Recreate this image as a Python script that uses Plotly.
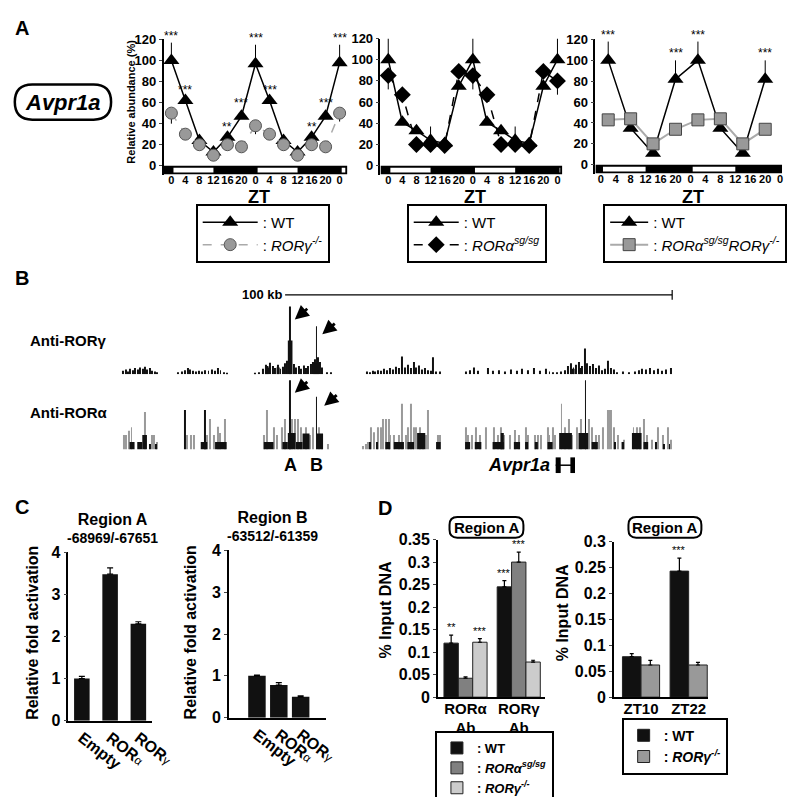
import plotly.graph_objects as go

W, H = 800, 797
FONT = "Arial, 'Liberation Sans', sans-serif"


def fx(p):
    return p / W


def fy(p):
    return 1 - p / H


# ---------------- panel A : circadian expression (Avpr1a) ----------------
zt = [0, 4, 8, 12, 16, 20, 24, 28, 32, 36, 40, 44, 48]
zt_labels = ["0", "4", "8", "12", "16", "20", "0", "4", "8", "12", "16", "20", "0"]
light_on = [0, 24, 48]

wt_a1 = [100, 62, 24, 13, 27, 47, 97, 62, 24, 13, 27, 47, 98]
wt_a1_up = [17, 3, 2, 2, 3, 6, 18, 3, 2, 2, 3, 6, 17]
rorg_a1 = [50, 30, 20, 10, 20, 18, 38, 30, 20, 10, 20, 18, 50]
rorg_a1_down = [10, 2, 2, 2, 2, 2, 8, 2, 2, 2, 2, 2, 8]
stars_a1 = ["***", "***", "", "", "**", "***", "***", "***", "", "", "**", "***", "***"]

wt_a2 = [100, 41, 33, 24, 21, 75, 100, 41, 33, 24, 21, 75, 100]
wt_a2_up = [20, 2, 2, 13, 2, 3, 20, 2, 2, 13, 2, 3, 20]
rora_a2 = [85, 67, 20, 20, 19, 89, 85, 67, 20, 20, 19, 89, 80]
rora_a2_up = [0, 0, 0, 0, 0, 7, 0, 0, 0, 0, 0, 7, 0]
rora_a2_down = [13, 3, 2, 2, 2, 0, 13, 3, 2, 2, 2, 0, 13]

zt_a3 = [2, 8, 14, 20, 26, 32, 38, 44]
wt_a3 = [100, 35, 11, 82, 100, 35, 11, 82]
wt_a3_up = [18, 2, 2, 18, 18, 2, 2, 18]
dko_a3 = [43, 44, 20, 34, 43, 44, 20, 34]
dko_a3_err = [2, 2, 2, 2, 2, 2, 2, 2]
stars_a3 = ["***", "", "", "***", "***", "", "", "***"]

# ---------------- panel B : ChIP-seq tracks (kb, arbitrary signal) ----------------
rorg_pos = [0.3, 1.0, 1.6, 2.2, 2.8, 3.5, 4.1, 4.8, 5.4, 6.0, 6.6, 7.2, 7.8, 8.5, 9.2,
            14.5, 15.5, 16.3, 17.0, 17.7, 18.4, 19.2, 20.0, 20.8, 21.6, 22.4, 23.2, 24.0, 24.8, 25.5, 26.3, 27.2,
            34.5, 35.5, 36.5, 37.2, 37.8, 38.4, 39.0, 39.6, 40.3, 41.0, 41.6, 42.2, 42.8, 43.5, 44.4, 45.0,
            45.7, 46.3, 47.0, 47.6, 48.2, 48.8, 49.4, 50.0, 50.3, 50.7, 51.2, 51.8, 53.0, 54.0,
            63.3, 64.0, 64.8, 65.5, 66.3, 67.0, 67.8, 68.5, 69.3, 70.0, 70.8, 71.6, 72.4, 73.1, 73.9, 74.6,
            75.4, 76.1, 76.9, 77.6, 78.4, 79.2, 80.0, 80.4, 81.2, 82.2,
            89.0, 90.0, 91.0, 92.0, 94.5, 96.0, 97.5, 99.0, 100.5, 102.0, 103.5, 105.0, 106.5, 108.0, 109.5,
            110.5, 111.5, 112.5, 113.5, 114.5, 115.3, 116.0, 116.7, 117.4, 118.1, 118.8, 119.6, 120.3, 121.0,
            121.8, 122.5, 123.2, 124.0, 124.8, 125.6, 126.4, 127.2, 128.0, 129.5, 131.0, 132.5, 133.5, 134.5,
            135.5, 136.5, 137.5, 138.5, 139.5, 140.5, 141.8]
rorg_sig = [5, 7, 4, 8, 6, 9, 7, 10, 8, 11, 7, 9, 5, 4, 3,
            3, 4, 6, 9, 7, 5, 4, 5, 4, 6, 5, 7, 5, 9, 6, 3, 2,
            2, 3, 8, 14, 10, 17, 12, 9, 14, 8, 11, 16, 20, 100, 15, 10,
            12, 8, 13, 9, 12, 15, 18, 22, 71, 25, 18, 10, 3, 3,
            4, 3, 5, 4, 6, 5, 8, 6, 9, 7, 11, 9, 26, 10, 14, 9,
            18, 10, 13, 7, 9, 6, 5, 25, 4, 4,
            4, 6, 10, 5, 9, 5, 6, 4, 7, 5, 8, 6, 9, 5, 8,
            4, 3, 3, 4, 6, 12, 16, 10, 14, 18, 12, 38, 16, 12,
            15, 9, 13, 6, 8, 20, 9, 7, 3, 4, 3, 4, 6, 8,
            7, 9, 6, 8, 5, 7, 9]
rorg_block_start = [37.0, 40.0, 42.9, 49.5, 116.0, 118.0]
rorg_block_end = [37.9, 40.8, 44.1, 50.9, 117.0, 119.0]
rorg_block_sig = [12, 10, 50, 16, 8, 9]

rora_gray_pos = [0.5, 1.0, 1.8, 2.5, 6.0, 7.8, 8.3, 9.0,
                 16.8, 17.8, 18.6, 21.9, 22.9, 23.7, 24.9, 25.3, 26.6,
                 36.8, 37.6, 39.2, 40.0, 41.4, 42.2, 43.9, 44.7, 45.5, 46.4, 47.7, 48.5, 49.3, 51.0, 51.7, 53.2,
                 62.4, 63.0, 63.6, 64.4, 65.2, 66.1, 66.9, 67.6, 68.2, 69.0, 69.4, 70.3, 71.5, 72.5, 73.5, 74.0,
                 74.7, 75.5, 76.1, 77.0, 77.8, 78.5, 79.1, 81.6, 82.2,
                 88.9, 89.5, 90.4, 91.6, 92.5, 94.1, 96.2, 97.1, 97.9, 98.7, 100.4, 101.7, 102.5, 104.4, 105.0,
                 106.7, 107.5, 108.4, 110.1, 110.5, 111.3, 112.0, 113.6, 114.6, 115.5, 116.3, 117.6, 118.7,
                 120.7, 121.4, 122.6, 123.4, 124.3, 125.6, 126.0, 126.4, 127.2, 128.1, 129.3, 129.7, 132.2,
                 133.1, 133.9, 134.8, 135.6, 136.9, 138.5, 139.8, 141.0, 141.9]
rora_gray_sig = [21, 21, 27, 32, 54, 21, 21, 11,
                 21, 21, 21, 21, 44, 21, 33, 24, 44,
                 21, 57, 32, 21, 32, 44, 44, 44, 44, 32, 32, 21, 32, 32, 21, 8,
                 5, 8, 11, 32, 25, 32, 32, 44, 44, 44, 21, 21, 21, 66, 21, 32,
                 66, 32, 32, 32, 21, 21, 57, 21, 21,
                 32, 21, 21, 32, 21, 32, 32, 21, 32, 21, 21, 28, 21, 32, 21,
                 21, 21, 21, 32, 21, 32, 21, 66, 32, 44, 21, 32, 44,
                 44, 32, 21, 21, 32, 57, 57, 57, 32, 21, 11, 14, 32,
                 32, 32, 44, 21, 14, 32, 21, 32, 14]
rora_black_pos = [7.3, 8.8, 16.3, 21.4, 43.5, 50.3, 64.0, 66.0, 119.8, 127.5, 129.4, 138.0, 140.0, 141.5]
rora_black_sig = [8, 8, 57, 57, 100, 76, 11, 11, 100, 11, 11, 11, 8, 8]
rora_block_start = [2.0, 4.0, 5.3, 20.4, 24.1, 36.7, 41.5, 42.9, 45.0, 46.7, 50.4,
                    68.1, 70.3, 73.8, 76.3, 81.2,
                    88.7, 91.2, 95.8, 97.9, 101.3, 104.2, 106.7, 110.0, 113.0, 118.0, 121.4, 131.8, 134.8]
rora_block_end = [3.3, 5.3, 6.5, 22.1, 27.1, 39.2, 42.9, 44.9, 46.7, 48.5, 52.0,
                  69.3, 72.9, 75.5, 78.4, 82.4,
                  90.0, 92.9, 98.7, 98.7, 102.9, 105.0, 107.5, 111.3, 116.3, 120.5, 123.0, 134.3, 136.0]
rora_block_sig = [11, 11, 21, 11, 11, 11, 11, 24, 11, 23, 23,
                  11, 11, 11, 24, 11,
                  11, 11, 11, 24, 11, 11, 11, 11, 24, 24, 11, 24, 11]
gene_exons = [(112.1, 113.4), (115.9, 117.1)]
scale_bar_kb = (42.2, 142.2)

# ---------------- panel C : luciferase ----------------
c_labels = ["Empty", "ROR<span style='font-size:12px;font-weight:normal'>α</span>",
            "ROR<span style='font-size:12px;font-weight:normal'>γ</span>"]
c_region_a = [1.0, 3.48, 2.3]
c_region_a_err = [0.05, 0.15, 0.05]
c_region_b = [1.0, 0.78, 0.5]
c_region_b_err = [0.02, 0.06, 0.02]

# ---------------- panel D : ChIP qPCR ----------------
d1_labels = ["RORα<br>Ab", "RORγ<br>Ab"]
d1_wt = [0.12, 0.245]
d1_wt_err = [0.018, 0.014]
d1_sg = [0.042, 0.30]
d1_sg_err = [0.003, 0.022]
d1_ko = [0.122, 0.078]
d1_ko_err = [0.008, 0.004]
d1_stars = [["**", "***"], ["", "***"], ["***", ""]]

d2_labels = ["ZT10", "ZT22"]
d2_wt = [0.078, 0.243]
d2_wt_err = [0.006, 0.025]
d2_ko = [0.062, 0.062]
d2_ko_err = [0.009, 0.005]
d2_stars = [["", "***"], ["", ""]]

fig = go.Figure()
layout = {}
shapes = []
annotations = []


def refs(n):
    s = "" if n == 1 else str(n)
    return "x" + s, "y" + s


def set_axes(n, xpx, ypx, xrange, yrange, xkw, ykw):
    xr, yr = refs(n)
    layout["xaxis" + xr[1:]] = dict(domain=[fx(xpx[0]), fx(xpx[1])], range=xrange, anchor=yr,
                                    fixedrange=True, showgrid=False, zeroline=False, **xkw)
    layout["yaxis" + yr[1:]] = dict(domain=[fy(ypx[0]), fy(ypx[1])], range=yrange, anchor=xr,
                                    fixedrange=True, showgrid=False, zeroline=False, **ykw)


def text(x, y, s, size, **kw):
    annotations.append(dict(x=fx(x), y=fy(y), xref="paper", yref="paper", text=s, showarrow=False,
                            xanchor="center", yanchor="middle",
                            font=dict(family=FONT, size=size, color="black"), **kw))


def rounded_box(x0, y0, x1, y1, r, width):
    p = (f"M {fx(x0 + r)},{fy(y0)} L {fx(x1 - r)},{fy(y0)} Q {fx(x1)},{fy(y0)} {fx(x1)},{fy(y0 + r)} "
         f"L {fx(x1)},{fy(y1 - r)} Q {fx(x1)},{fy(y1)} {fx(x1 - r)},{fy(y1)} "
         f"L {fx(x0 + r)},{fy(y1)} Q {fx(x0)},{fy(y1)} {fx(x0)},{fy(y1 - r)} "
         f"L {fx(x0)},{fy(y0 + r)} Q {fx(x0)},{fy(y0)} {fx(x0 + r)},{fy(y0)} Z")
    shapes.append(dict(type="path", path=p, xref="paper", yref="paper",
                       line=dict(color="black", width=width), layer="below"))


def legend_box(x, y, size, itemwidth=30):
    return dict(x=fx(x), y=fy(y), xanchor="left", yanchor="top", bordercolor="black", borderwidth=2,
                bgcolor="white", font=dict(family=FONT, size=size, color="black"), tracegroupgap=0,
                traceorder="normal", itemwidth=itemwidth)


# ---------- panel A ----------
a_geom = [
    dict(n=1, left=160, right=349, zt0=168, zt48=341, top=24, zero=153, leg="legend", x0=193, iw=55),
    dict(n=2, left=383, right=570, zt0=391, zt48=565, top=23, zero=153, leg="legend2", x0=410, iw=45),
    dict(n=3, left=604, right=796, zt0=609.5, zt48=794, top=24, zero=152, leg="legend3", x0=612, iw=38),
]
a_series = [
    [dict(x=zt, y=wt_a1, up=wt_a1_up, down=[0] * 13, name=": WT",
          marker=dict(symbol="triangle-up", size=14, color="black"), line=dict(color="black", width=1.5)),
     dict(x=zt, y=rorg_a1, up=[0] * 13, down=rorg_a1_down, name=": <i>RORγ<sup>-/-</sup></i>",
          marker=dict(symbol="circle", size=12, color="#999999", line=dict(color="#555555", width=1)),
          line=dict(color="#aaaaaa", width=1.5, dash="dash"))],
    [dict(x=zt, y=wt_a2, up=wt_a2_up, down=[0] * 13, name=": WT",
          marker=dict(symbol="triangle-up", size=14, color="black"), line=dict(color="black", width=1.5)),
     dict(x=zt, y=rora_a2, up=rora_a2_up, down=rora_a2_down, name=": <i>RORα<sup>sg/sg</sup></i>",
          marker=dict(symbol="diamond", size=13, color="black"),
          line=dict(color="black", width=1.5, dash="dash"))],
    [dict(x=zt_a3, y=wt_a3, up=wt_a3_up, down=[0] * 8, name=": WT",
          marker=dict(symbol="triangle-up", size=14, color="black"), line=dict(color="black", width=1.5)),
     dict(x=zt_a3, y=dko_a3, up=dko_a3_err, down=dko_a3_err,
          name=": <i>RORα<sup>sg/sg</sup>RORγ<sup>-/-</sup></i>",
          marker=dict(symbol="square", size=12, color="#999999", line=dict(color="#444444", width=1)),
          line=dict(color="#aaaaaa", width=2))],
]
a_stars = [(zt, wt_a1, wt_a1_up, stars_a1), None, (zt_a3, wt_a3, wt_a3_up, stars_a3)]

for g, series, st in zip(a_geom, a_series, a_stars):
    n = g["n"]
    xr, yr = refs(n)
    pph = (g["zt48"] - g["zt0"]) / 48
    xmin = (g["left"] - g["zt0"]) / pph
    xmax = 48 + (g["right"] - g["zt48"]) / pph
    ppu = (g["zero"] - g["top"]) / 120
    ymin = -9 / ppu
    set_axes(n, (g["left"], g["right"]), (g["zero"] + 9, g["top"]), [xmin, xmax], [ymin, 120],
             dict(showline=False, ticks="", tickvals=zt, ticktext=zt_labels, tickangle=0,
                  ticklabelstandoff=-3,
                  tickfont=dict(family=FONT, size=11, weight="bold", color="black")),
             dict(showline=True, linecolor="black", linewidth=1.5, ticks="outside", ticklen=3,
                  tickvals=[0, 20, 40, 60, 80, 100, 120],
                  tickfont=dict(family=FONT, size=13, weight="bold", color="black")))
    # light / dark bar
    shapes.append(dict(type="rect", xref=xr, yref=yr, x0=xmin, x1=xmax, y0=ymin, y1=0,
                       fillcolor="black", line_width=0, layer="below"))
    for on in light_on:
        s0 = on + 0.6
        s1 = min(on + 12, xmax - 0.6)
        if s1 > s0:
            shapes.append(dict(type="rect", xref=xr, yref=yr, x0=s0, x1=s1, y0=ymin + 2 / ppu,
                               y1=-2 / ppu, fillcolor="white", line_width=0))
    for s in series:
        fig.add_trace(go.Scatter(
            x=s["x"], y=s["y"], name=s["name"], mode="lines+markers", marker=s["marker"], line=s["line"],
            error_y=dict(type="data", symmetric=False, array=s["up"], arrayminus=s["down"],
                         color="black", thickness=1, width=0),
            xaxis=xr, yaxis=yr, legend=g["leg"], cliponaxis=False, hoverinfo="skip"))
    if st:
        for x, v, e, lab in zip(*st):
            if lab:
                annotations.append(dict(x=x, y=v + e, xref=xr, yref=yr, text=lab, showarrow=False,
                                        yanchor="bottom", yshift=-2,
                                        font=dict(family=FONT, size=12, color="black")))
    text((g["left"] + g["right"]) / 2 + 4, 185, "<b>ZT</b>", 18)
    layout[g["leg"]] = legend_box(g["x0"], 192, 15, g["iw"])

text(127, 88, "<b>Relative abundance (%)</b>", 11, textangle=-90)
rounded_box(7, 70, 106, 106, 18, 2.5)
text(57, 88, "<b><i>Avpr1a</i></b>", 22)

# ---------- panel B ----------
KB_PX, KB0 = 3.98, 117
bx = [(110 - KB0) / KB_PX, (690 - KB0) / KB_PX]
set_axes(4, (110, 690), (366, 290), bx, [0, 110], dict(visible=False), dict(visible=False))
set_axes(5, (110, 690), (443, 365), bx, [0, 110], dict(visible=False), dict(visible=False))


def thin_bars(n, pos, sig, color, w=0.25):
    xr, yr = refs(n)
    fig.add_trace(go.Bar(x=pos, y=sig, width=w, offset=-w / 2, marker=dict(color=color, line_width=0),
                         xaxis=xr, yaxis=yr, showlegend=False, hoverinfo="skip"))


def block_bars(n, start, end, sig, color):
    xr, yr = refs(n)
    wid = [e - s for s, e in zip(start, end)]
    fig.add_trace(go.Bar(x=start, y=sig, width=wid, offset=0, marker=dict(color=color, line_width=0),
                         xaxis=xr, yaxis=yr, showlegend=False, hoverinfo="skip"))


thin_bars(4, rorg_pos, rorg_sig, "#111111")
block_bars(4, rorg_block_start, rorg_block_end, rorg_block_sig, "#111111")
thin_bars(5, rora_gray_pos, rora_gray_sig, "#9a9a9a")
block_bars(5, rora_block_start, rora_block_end, rora_block_sig, "#111111")
thin_bars(5, rora_black_pos, rora_black_sig, "#111111")

# scale bar
shapes.append(dict(type="line", xref="x4", yref="paper", x0=scale_bar_kb[0], x1=scale_bar_kb[1],
                   y0=fy(285), y1=fy(285), line=dict(color="black", width=1.2)))
shapes.append(dict(type="line", xref="x4", yref="paper", x0=scale_bar_kb[1], x1=scale_bar_kb[1],
                   y0=fy(280), y1=fy(290), line=dict(color="black", width=1.2)))
annotations.append(dict(x=scale_bar_kb[0], y=fy(285), xref="x4", yref="paper", text="<b>100 kb</b>",
                        showarrow=False, xanchor="right", yanchor="middle",
                        font=dict(family=FONT, size=13, color="black")))
# arrows at peaks A/B
for xa, ya, xref, yref in [(44.7, 81, "x4", "y4"), (51.8, 59, "x4", "y4"),
                           (44.7, 82, "x5", "y5"), (52.3, 63, "x5", "y5")]:
    annotations.append(dict(x=xa, y=ya, xref=xref, yref=yref, ax=14, ay=-12, text="", showarrow=True,
                            arrowhead=2, arrowsize=1, arrowwidth=2.8, arrowcolor="black"))
# gene model
for s, e in gene_exons:
    shapes.append(dict(type="rect", xref="x5", yref="paper", x0=s, x1=e, y0=fy(467), y1=fy(451),
                       fillcolor="black", line_width=0))
shapes.append(dict(type="line", xref="x5", yref="paper", x0=gene_exons[0][0], x1=gene_exons[-1][1],
                   y0=fy(459), y1=fy(459), line=dict(color="black", width=1.5)))

text(62, 332, "<b>Anti-RORγ</b>", 15)
text(62, 405, "<b>Anti-RORα</b>", 15)
annotations.append(dict(x=43.5, y=fy(459), xref="x5", yref="paper", text="<b>A</b>", showarrow=False,
                        xanchor="center", yanchor="middle", font=dict(family=FONT, size=18, color="black")))
annotations.append(dict(x=50.3, y=fy(459), xref="x5", yref="paper", text="<b>B</b>", showarrow=False,
                        xanchor="center", yanchor="middle", font=dict(family=FONT, size=18, color="black")))
text(525, 459, "<b><i>Avpr1a</i></b>", 18)

# ---------- panel C ----------
axis_line = dict(showline=True, linecolor="black", linewidth=1.5)
cx_kw = dict(tickvals=[0, 1, 2], ticktext=c_labels, ticks="", tickangle=38,
             tickfont=dict(family=FONT, size=16, weight="bold", color="black"), **axis_line)
cy_kw = dict(tickvals=[0, 1, 2, 3, 4], ticks="outside", ticklen=3,
             tickfont=dict(family=FONT, size=16, weight="bold", color="black"), **axis_line)
set_axes(6, (62, 148), (720, 548), [-0.48, 2.48], [0, 4], cx_kw, cy_kw)
set_axes(7, (227, 327), (717, 546), [-1.29, 3.16], [0, 4], cx_kw, cy_kw)
for n, vals, errs, w in [(6, c_region_a, c_region_a_err, 0.55), (7, c_region_b, c_region_b_err, 0.8)]:
    xr, yr = refs(n)
    fig.add_trace(go.Bar(x=[0, 1, 2], y=vals, width=w, marker=dict(color="#111111", line_width=0),
                         error_y=dict(type="data", array=errs, arrayminus=[0, 0, 0], symmetric=False,
                                      color="black", thickness=1.2, width=3),
                         xaxis=xr, yaxis=yr, showlegend=False, hoverinfo="skip"))
text(107, 524, "<b><span style='font-size:16px'>Region A</span><br>-68969/-67651</b>", 14)
text(272, 522, "<b><span style='font-size:16px'>Region B</span><br>-63512/-61359</b>", 14)
text(25, 630, "<b>Relative fold activation</b>", 16, textangle=-90)
text(188, 630, "<b>Relative fold activation</b>", 16, textangle=-90)

# ---------- panel D ----------
dy_kw = dict(ticks="outside", ticklen=3, tickfont=dict(family=FONT, size=16, weight="bold", color="black"),
             **axis_line)
set_axes(8, (442, 552), (696, 535), [-0.52, 1.49], [0, 0.35],
         dict(tickvals=[0, 1], ticktext=d1_labels, ticks="", ticklabelstandoff=-3,
              tickfont=dict(family=FONT, size=15, weight="bold", color="black"), **axis_line),
         dict(dtick=0.05, **dy_kw))
set_axes(9, (623, 720), (696, 537), [-0.57, 1.41], [0, 0.3],
         dict(tickvals=[0, 1], ticktext=d2_labels, ticks="", ticklabelstandoff=-3,
              tickfont=dict(family=FONT, size=15, weight="bold", color="black"), **axis_line),
         dict(dtick=0.05, **dy_kw))

d_groups = [
    (8, "legend4", 0.27, [(": WT", d1_wt, d1_wt_err, "#111111"),
                          (": <i>RORα<sup>sg/sg</sup></i>", d1_sg, d1_sg_err, "#808080"),
                          (": <i>RORγ<sup>-/-</sup></i>", d1_ko, d1_ko_err, "#cccccc")], d1_stars),
    (9, "legend5", 0.39, [(": WT", d2_wt, d2_wt_err, "#111111"),
                          (": <i>RORγ<sup>-/-</sup></i>", d2_ko, d2_ko_err, "#999999")], d2_stars),
]
for n, leg, w, bars, stars in d_groups:
    xr, yr = refs(n)
    k = len(bars)
    for i, (name, vals, errs, color) in enumerate(bars):
        off = -k * w / 2 + i * w
        fig.add_trace(go.Bar(x=[0, 1], y=vals, width=w, offset=off, name="<b>" + name + "</b>",
                             marker=dict(color=color, line=dict(color="#222222", width=1)),
                             error_y=dict(type="data", array=errs, arrayminus=[0, 0], symmetric=False,
                                          color="black", thickness=1.2, width=2),
                             xaxis=xr, yaxis=yr, legend=leg, hoverinfo="skip"))
        for j, lab in enumerate(stars[i]):
            if lab:
                annotations.append(dict(x=j + off + w / 2, y=vals[j] + errs[j], xref=xr, yref=yr, text=lab,
                                        showarrow=False, yanchor="bottom", yshift=0,
                                        font=dict(family=FONT, size=11, color="black")))

layout["legend4"] = legend_box(439, 731, 13)
layout["legend5"] = legend_box(631, 717, 14)

rounded_box(454, 512, 530, 533, 8, 2)
text(492, 523, "<b>Region A</b>", 15)
rounded_box(638, 512, 713, 533, 8, 2)
text(675, 523, "<b>Region A</b>", 15)
text(388, 607, "<b>% Input DNA</b>", 16, textangle=-90)
text(571, 610, "<b>% Input DNA</b>", 16, textangle=-90)

# panel letters
text(14, 12, "<b>A</b>", 20)
text(14, 268, "<b>B</b>", 20)
text(14, 502, "<b>C</b>", 20)
text(388, 503, "<b>D</b>", 20)

fig.update_layout(
    width=W, height=H, margin=dict(l=0, r=0, t=0, b=0),
    paper_bgcolor="white", plot_bgcolor="rgba(0,0,0,0)",
    font=dict(family=FONT, color="black"),
    barmode="overlay", shapes=shapes, annotations=annotations, **layout,
)
fig.write_html("out.html")
